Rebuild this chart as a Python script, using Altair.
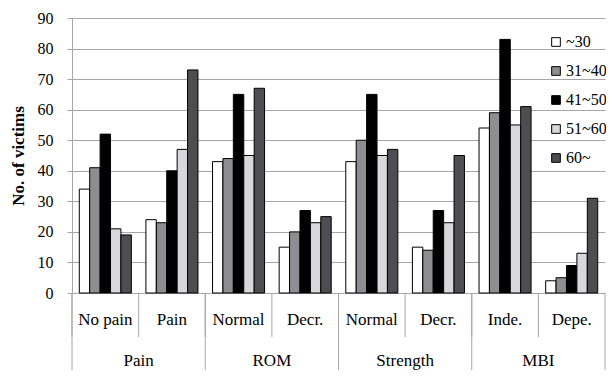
import altair as alt
import pandas as pd

groups = ["Pain", "Pain", "ROM", "ROM", "Strength", "Strength", "MBI", "MBI"]
subs = ["No pain", "Pain", "Normal", "Decr.", "Normal", "Decr.", "Inde.", "Depe."]
series = ["~30", "31~40", "41~50", "51~60", "60~"]
values = {
    "~30":   [34, 24, 43, 15, 43, 15, 54, 4],
    "31~40": [41, 23, 44, 20, 50, 14, 59, 5],
    "41~50": [52, 40, 65, 27, 65, 27, 83, 9],
    "51~60": [21, 47, 45, 23, 45, 23, 55, 13],
    "60~":   [19, 73, 67, 25, 47, 45, 61, 31],
}
colors = ["#ffffff", "#8e8e92", "#000000", "#d8d8da", "#4e4e52"]

keys = [f"{g}|{s}" for g, s in zip(groups, subs)]
rows = []
for s in series:
    for k, g, sb, v in zip(keys, groups, subs, values[s]):
        rows.append({"key": k, "group": g, "sub": sb, "series": s, "value": v})
df = pd.DataFrame(rows)

FONT = "Liberation Serif"
GRID = "#a6a6a6"
xscale = alt.Scale(domain=keys, paddingInner=0, paddingOuter=0)

bars = alt.Chart(df).mark_bar(stroke="black", strokeWidth=1).encode(
    x=alt.X("key:N", scale=xscale, title=None,
            axis=alt.Axis(labelExpr="split(datum.value, '|')[1]", labelAngle=0,
                          ticks=False, domainColor=GRID, labelPadding=18,
                          labelFont=FONT, labelFontSize=17, labelColor="black")),
    xOffset=alt.XOffset("series:N", scale=alt.Scale(domain=series, paddingInner=0, paddingOuter=0.7)),
    y=alt.Y("value:Q", scale=alt.Scale(domain=[0, 90]), title="No. of victims",
            axis=alt.Axis(values=list(range(0, 91, 10)), gridColor=GRID, domainColor=GRID,
                          tickColor=GRID, tickSize=5, labelFont=FONT, labelFontSize=16,
                          labelPadding=14,
                          labelColor="black", titleFont=FONT, titleFontSize=17,
                          titleFontWeight="bold", titleColor="black", titlePadding=10)),
    color=alt.Color("series:N", scale=alt.Scale(domain=series, range=colors),
                    legend=alt.Legend(title=None, orient="none", legendX=476, legendY=16,
                                      symbolType="square", symbolSize=75,
                                      symbolStrokeColor="black", symbolStrokeWidth=1,
                                      labelFont=FONT, labelFontSize=16, labelColor="black",
                                      rowPadding=13, labelOffset=2)),
)

sep_df = pd.DataFrame({"key": keys})
short_sep = alt.Chart(sep_df).mark_rule(color=GRID).encode(
    x=alt.X("key:N", scale=xscale, bandPosition=0),
    y=alt.value(275), y2=alt.value(319))

group_first = [keys[i] for i in range(0, 8, 2)]
long_df = pd.DataFrame({"key": group_first})
long_sep = alt.Chart(long_df).mark_rule(color=GRID).encode(
    x=alt.X("key:N", scale=xscale, bandPosition=0),
    y=alt.value(275), y2=alt.value(400))
end_df = pd.DataFrame({"key": [keys[-1]]})
end_sep = alt.Chart(end_df).mark_rule(color=GRID).encode(
    x=alt.X("key:N", scale=xscale, bandPosition=1),
    y=alt.value(275), y2=alt.value(400))

glabel_df = pd.DataFrame({"key": group_first, "label": [groups[i] for i in range(0, 8, 2)]})
glabels = alt.Chart(glabel_df).mark_text(font=FONT, fontSize=17, color="black", baseline="middle").encode(
    x=alt.X("key:N", scale=xscale, bandPosition=1),
    y=alt.value(343), text="label:N")

chart = alt.layer(bars, short_sep, long_sep, end_sep, glabels).properties(
    width=533, height=275,
    autosize=alt.AutoSizeParams(type="none"),
    padding={"left": 64, "top": 10, "right": 1, "bottom": 77},
).configure_view(stroke=None).configure_axis(grid=True).configure_axisX(grid=False)

chart.save("out.html", embed_options={"renderer": "svg", "actions": False})
